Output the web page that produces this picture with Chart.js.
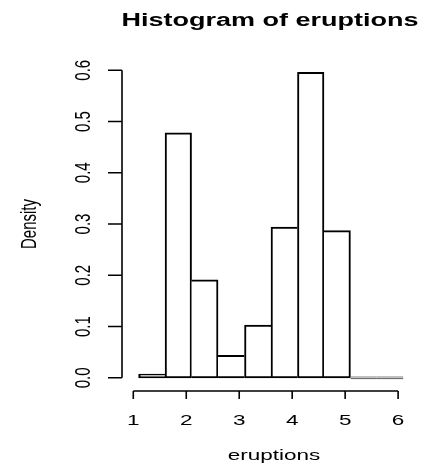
<!DOCTYPE html>
<html>
<head>
<meta charset="utf-8">
<script src="https://cdn.jsdelivr.net/npm/chart.js@4.4.1/dist/chart.umd.min.js"></script>
<style>
  html, body { margin: 0; padding: 0; background: #fff; }
  canvas { display: block; }
</style>
</head>
<body>
<canvas id="hist" width="438" height="469"></canvas>
<script>
// histogram bins (faithful eruptions)
const breaks = [1.1, 1.6, 2.1, 2.6, 3.1, 3.6, 4.1, 4.6, 5.1, 5.6, 6.1];
const density = [0.0074, 0.478, 0.191, 0.044, 0.103, 0.294, 0.596, 0.287, 0, 0];
const xTicks = [1, 2, 3, 4, 5, 6];
const yTicks = [0, 0.1, 0.2, 0.3, 0.4, 0.5, 0.6];
const yTickLabels = ['0.0', '0.1', '0.2', '0.3', '0.4', '0.5', '0.6'];
const titleText = 'Histogram of eruptions';
const xLabel = 'eruptions';
const yLabel = 'Density';

const fontFamily = '"Liberation Sans", Arial, Helvetica, sans-serif';
const stretch = 1.5; // the reference is wider than tall, text included

const drawText = (ctx, text, x, y, rot, font) => {
  ctx.save();
  ctx.translate(x, y);
  ctx.scale(stretch, 1);
  ctx.rotate(rot);
  ctx.font = font;
  ctx.fillStyle = '#000';
  ctx.textAlign = 'center';
  ctx.textBaseline = 'middle';
  ctx.fillText(text, 0, 0);
  ctx.restore();
};

// shared edges are drawn once, by the taller of the two bars
const edgeWidths = (c) => {
  const i = c.dataIndex;
  const v = density[i];
  const prev = i > 0 ? density[i - 1] : -1;
  const next = i < density.length - 1 ? density[i + 1] : -1;
  return {
    top: 2,
    bottom: 2,
    left: v > prev ? 2 : 0,
    right: v >= next && v > 0 ? 2 : 0,
  };
};

// R style detached axes, title and labels
const rAxes = {
  id: 'rAxes',
  afterDraw(chart) {
    const { ctx, scales: { x, y } } = chart;
    const axisY = 391;
    const axisX = 122;
    ctx.save();
    ctx.strokeStyle = '#000';
    ctx.lineWidth = 1.6;
    ctx.beginPath();
    ctx.moveTo(x.getPixelForValue(xTicks[0]), axisY);
    ctx.lineTo(x.getPixelForValue(xTicks[xTicks.length - 1]), axisY);
    xTicks.forEach((t) => {
      const px = x.getPixelForValue(t);
      ctx.moveTo(px, axisY);
      ctx.lineTo(px, axisY + 8);
    });
    ctx.moveTo(axisX, y.getPixelForValue(yTicks[0]));
    ctx.lineTo(axisX, y.getPixelForValue(yTicks[yTicks.length - 1]));
    yTicks.forEach((t) => {
      const py = y.getPixelForValue(t);
      ctx.moveTo(axisX, py);
      ctx.lineTo(axisX - 14, py);
    });
    ctx.stroke();
    ctx.restore();

    const font = `15px ${fontFamily}`;
    xTicks.forEach((t) => drawText(ctx, String(t), x.getPixelForValue(t), 421, 0, font));
    yTicks.forEach((t, i) => drawText(ctx, yTickLabels[i], 84, y.getPixelForValue(t), -Math.PI / 2, font));
    drawText(ctx, xLabel, 274, 456, 0, font);
    drawText(ctx, yLabel, 30, 224, -Math.PI / 2, font);
    drawText(ctx, titleText, 270, 21, 0, `bold 18px ${fontFamily}`);
  },
};

const mids = breaks.slice(0, -1).map((b, i) => (b + breaks[i + 1]) / 2);

new Chart(document.getElementById('hist'), {
  type: 'bar',
  data: {
    datasets: [{
      data: mids.map((m, i) => ({ x: m, y: density[i] })),
      backgroundColor: '#fff',
      borderColor: '#000',
      borderSkipped: false,
      borderWidth: edgeWidths,
      minBarLength: 2,
      barPercentage: 1,
      categoryPercentage: 1,
    }],
  },
  options: {
    responsive: false,
    animation: false,
    layout: { padding: { left: 128, right: 24, top: 60, bottom: 79 } },
    plugins: { legend: { display: false }, tooltip: { enabled: false }, title: { display: false } },
    scales: {
      x: { type: 'linear', display: false, offset: false, min: 0.9, max: 6.3 },
      y: { display: false, min: -0.0238, max: 0.62 },
    },
  },
  plugins: [rAxes],
});
</script>
</body>
</html>
